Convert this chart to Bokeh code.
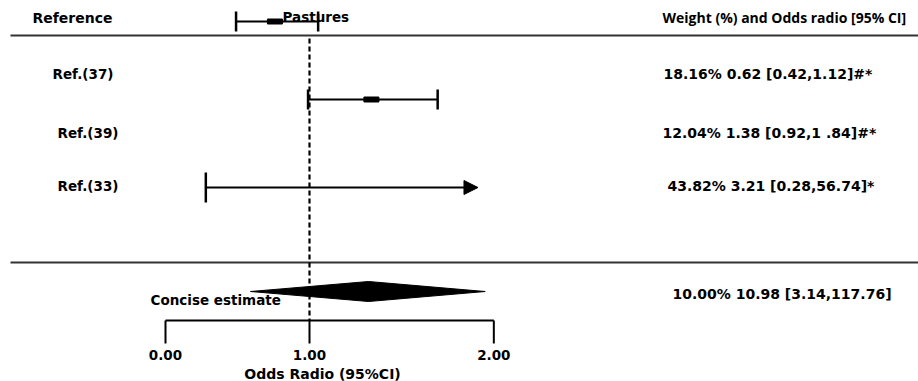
from bokeh.plotting import figure
from bokeh.models import Range1d, Arrow, NormalHead
from bokeh.core.properties import value
from bokeh.embed import file_html
from bokeh.resources import INLINE

# ---------------- data ----------------
header_left = "Reference"
header_mid = "Pastures"
header_right = "Weight (%) and Odds radio [95% CI]"
studies = ["Ref.(37)", "Ref.(39)", "Ref.(33)"]
study_stats = ["18.16% 0.62 [0.42,1.12]#*",
               "12.04%  1.38 [0.92,1 .84]#*",
               "43.82%  3.21 [0.28,56.74]*"]
# intervals as they are drawn in the picture, read on its odds-ratio axis
drawn_lo = [0.49, 0.99, 0.28]
drawn_hi = [1.06, 1.89, 2.17]          # Ref.(33) ends in an arrow
drawn_est = [0.76, 1.43]               # Ref.(33) shows no box
pooled_label = "Concise estimate"
pooled_stats = "10.00%  10.98 [3.14,117.76]"
pooled_lo, pooled_est, pooled_hi = 0.59, 1.41, 2.22
null_value = 1.0
tick_labels = ["0.00", "1.00", "2.00"]
tick_pos = [0.0, 1.0, 2.28]            # the picture's axis is uneven
axis_title = "Odds Radio (95%CI)"

# ---------------- layout ----------------
W, H = 918, 381
X0_PX, PX_PER_UNIT = 165, 144
FONT = value("DejaVu Sans")
FONT2 = value("Open Sans")
INK = "#000000"

p = figure(width=W, height=H,
           x_range=Range1d(-X0_PX / PX_PER_UNIT, (W - X0_PX) / PX_PER_UNIT),
           y_range=Range1d(H, 0),
           output_backend="svg", toolbar_location=None,
           x_axis_location=None, y_axis_location=None, min_border=0)
p.extra_x_ranges = {"px": Range1d(0, W)}
p.grid.visible = False
p.outline_line_color = None
p.background_fill_color = "white"
p.border_fill_color = "white"

# rows (vertical layout, pixels from top)
header_y = 17
header_rule_y = 35
lower_rule_y = 262
ci_y = [21, 99, 187]
cap_half = [10, 10, 15]
label_y = [73, 132, 185]
diamond_y, diamond_half = 291, 10
axis_y, tick_len = 320, 23


def txt(x, y, t, size, align="left", font=FONT):
    p.text(x=[x], y=[y], text=[t], x_range_name="px", text_font=font,
           text_font_style="bold", text_font_size=value(size),
           text_baseline="middle", text_align=align, text_color=INK)


# rules
p.segment(x0=[10, 10], x1=[W, W], y0=[header_rule_y, lower_rule_y],
          y1=[header_rule_y, lower_rule_y], x_range_name="px",
          line_width=2, line_color="#333333")

# null line
p.segment(x0=[null_value], x1=[null_value], y0=[header_rule_y + 3], y1=[axis_y],
          line_width=2.2, line_color=INK, line_dash="5 3")

# whiskers for the two closed intervals
p.segment(x0=drawn_lo[:2], x1=drawn_hi[:2], y0=ci_y[:2], y1=ci_y[:2],
          line_width=1.8, line_color=INK)
# caps
cap_x = drawn_lo[:2] + drawn_hi[:2] + [drawn_lo[2]]
cap_yc = ci_y[:2] + ci_y[:2] + [ci_y[2]]
cap_h = cap_half[:2] + cap_half[:2] + [cap_half[2]]
p.segment(x0=cap_x, x1=cap_x,
          y0=[c - h for c, h in zip(cap_yc, cap_h)],
          y1=[c + h for c, h in zip(cap_yc, cap_h)],
          line_width=2.5, line_color=INK)
# boxes
p.rect(x=drawn_est, y=ci_y[:2], width=15, height=5,
       width_units="screen", height_units="screen",
       fill_color=INK, line_color=INK)
# open-ended interval
p.add_layout(Arrow(end=NormalHead(size=14, fill_color=INK, line_color=INK),
                   x_start=drawn_lo[2], y_start=ci_y[2],
                   x_end=drawn_hi[2], y_end=ci_y[2],
                   line_width=2, line_color=INK))

# pooled diamond
p.patch(x=[pooled_lo, pooled_est, pooled_hi, pooled_est],
        y=[diamond_y, diamond_y - diamond_half, diamond_y, diamond_y + diamond_half],
        fill_color=INK, line_color=INK)

# axis
p.segment(x0=[tick_pos[0]], x1=[tick_pos[-1]], y0=[axis_y], y1=[axis_y],
          line_width=2, line_color=INK)
p.segment(x0=tick_pos, x1=tick_pos, y0=[axis_y] * 3, y1=[axis_y + tick_len] * 3,
          line_width=2, line_color=INK)
p.text(x=tick_pos, y=[354] * 3, text=tick_labels, text_font=FONT,
       text_font_style="bold", text_font_size=value("13.5px"),
       text_baseline="middle", text_align="center", text_color=INK)

# texts
txt(32, header_y, header_left, "14px")
txt(282, header_y - 1, header_mid, "13.5px")
txt(662, header_y, header_right, "14px", font=FONT2)
for ty, s, st, sx in zip(label_y, studies, study_stats, [663, 662, 667]):
    txt(52 if s == "Ref.(37)" else 57, ty, s, "13.5px")
    txt(sx, ty, st, "14px")
txt(150, 299, pooled_label, "13.5px")
txt(672, 293, pooled_stats, "14px")
txt(322, 373, axis_title, "14px", align="center")

open("out.html", "w").write(file_html(p, INLINE))
